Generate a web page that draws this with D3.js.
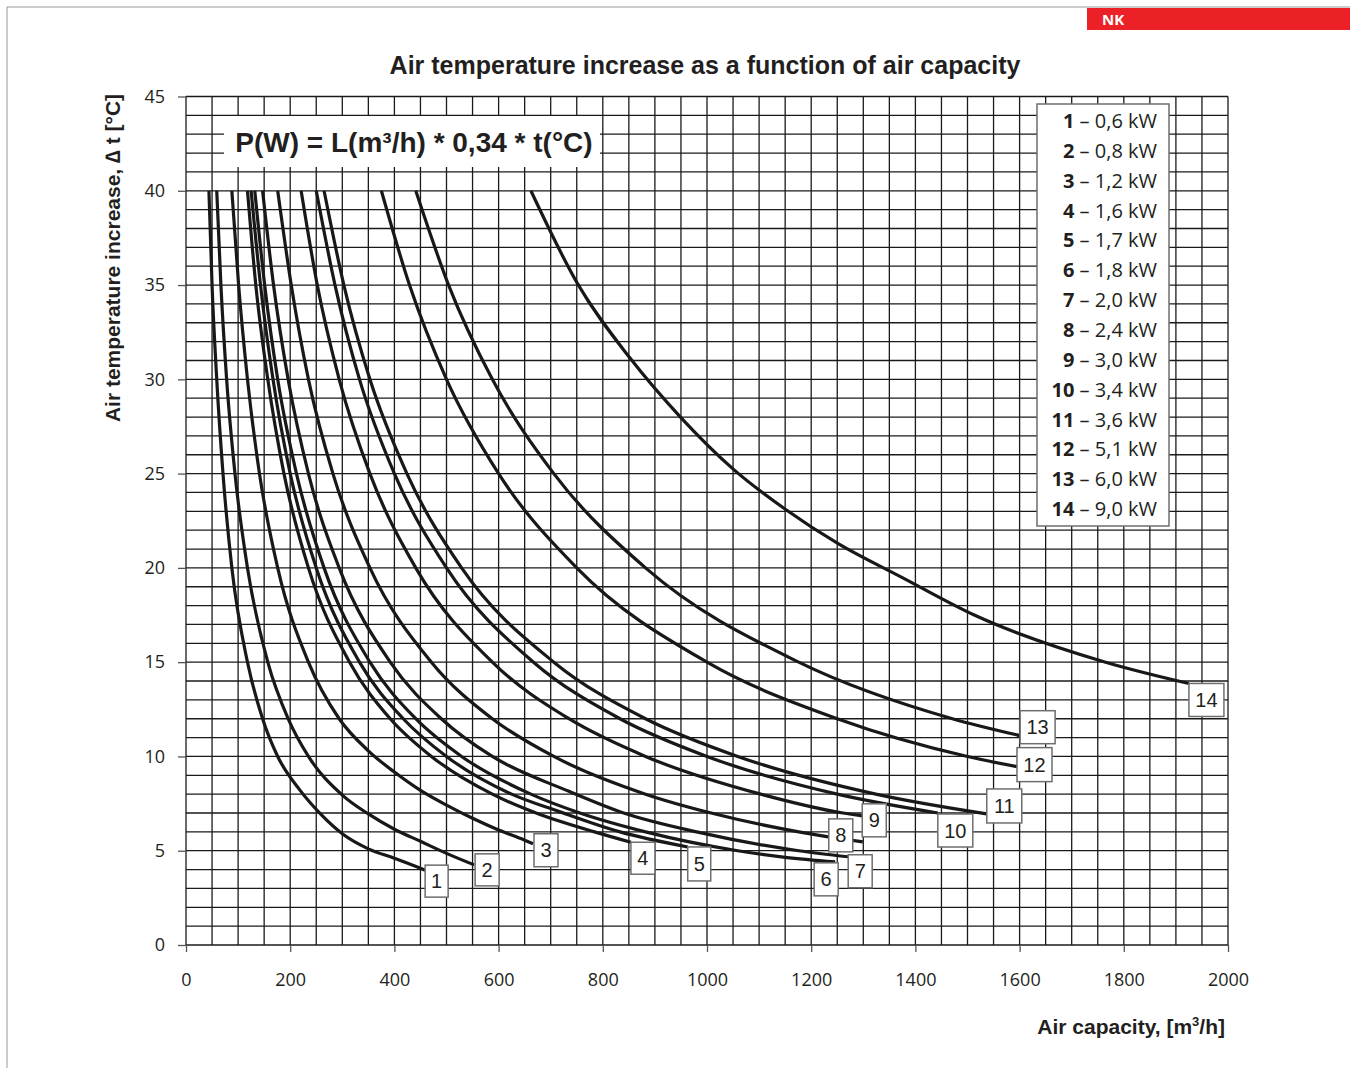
<!DOCTYPE html>
<html><head><meta charset="utf-8">
<script src="https://cdn.jsdelivr.net/npm/d3@7"></script>
<style>body{margin:0;background:#fff}svg{display:block}</style>
</head><body>
<svg id="chart" width="1350" height="1068"></svg>
<script>
// ---- data ----
const curveIds = ["1","2","3","4","5","6","7","8","9","10","11","12","13","14"];
const powerLabels = ["0,6 kW","0,8 kW","1,2 kW","1,6 kW","1,7 kW","1,8 kW","2,0 kW","2,4 kW","3,0 kW","3,4 kW","3,6 kW","5,1 kW","6,0 kW","9,0 kW"];
// points: [air capacity m3/h, temperature increase °C]
const curve1  = [[44,40],[50,35],[59,30],[71,25],[88,20],[118,15],[147,12],[176,10],[219,8.2],[260,6.9],[300,5.9],[350,5.1],[400,4.6],[450,4.07],[459,3.97]];
const curve2  = [[59,40],[67,35],[78,30],[94,25],[118,20],[157,15],[196,12],[235,10],[300,7.95],[350,6.95],[400,6.14],[450,5.5],[500,4.86],[553,4.25]];
const curve3  = [[88,40],[101,35],[118,30],[141,25],[176,20],[235,15],[294,12],[350,10.3],[400,9.17],[450,8.2],[500,7.42],[550,6.72],[600,6.1],[650,5.56],[666,5.37]];
const curve4  = [[118,40],[134,35],[157,30],[188,25],[235,20],[314,15],[392,12],[471,10],[588,8],[672,7],[784,6],[854,5.45]];
const curve5  = [[125,40],[143,35],[167,30],[200,25],[250,20],[333,15],[417,12],[500,10],[625,8],[714,7.1],[833,6],[963,5.2]];
const curve6  = [[132,40],[151,35],[176,30],[212,25],[265,20],[353,15],[441,12],[529,10],[662,8],[756,7],[882,6],[1059,5],[1150,4.65],[1246,4.41]];
const curve7  = [[147,40],[168,35],[196,30],[235,25],[294,20],[392,15],[490,12],[588,10],[735,8.15],[840,7],[980,6],[1176,5],[1271,4.68]];
const curve8  = [[176,40],[202,35],[235,30],[282,25],[353,20],[471,15],[588,12],[706,10],[882,8],[1008,7],[1176,6],[1299,5.47]];
const curve9  = [[221,40],[252,35],[294,30],[353,25],[441,20],[588,15],[735,12],[882,10],[1103,8],[1261,7],[1298,6.85]];
const curve10 = [[250,40],[286,35],[333,30],[400,25],[500,20],[667,15],[833,12],[1000,10],[1250,8],[1443,7.0]];
const curve11 = [[265,40],[303,35],[353,30],[424,25],[529,20],[706,15],[882,12],[1059,10],[1324,8],[1537,6.95]];
const curve12 = [[375,40],[429,35],[500,30],[600,25],[750,20],[1000,15],[1250,12],[1500,10],[1595,9.46]];
const curve13 = [[441,40],[504,35],[588,30],[706,25],[882,20],[1176,15],[1471,12],[1601,11.1]];
const curve14 = [[662,40],[751,35.1],[853,31.1],[949,28.0],[1052,25.2],[1151,23.1],[1251,21.3],[1374,19.5],[1513,17.5],[1765,15],[1925,13.87]];
const curves = [curve1,curve2,curve3,curve4,curve5,curve6,curve7,curve8,curve9,curve10,curve11,curve12,curve13,curve14];
const xTicks = [0,200,400,600,800,1000,1200,1400,1600,1800,2000];
const yTicks = [0,5,10,15,20,25,30,35,40,45];

// ---- layout ----
// label box placement relative to curve end point: [dx, dy, w, h]
const labelBoxes = [[0,-5,23,32],[1,-11,24,32],[1,-10,24,33],[0,0,24,32],[0,0,23,34],[-21,1,24,33],[0,-2,24,33],[-34,-23,24,33],[0,-12,24,33],[0,1,35,33],[0,-25,35,34],[0,-19,35,34],[0,-25,35,33],[0,0,35,33]];

const svg = d3.select("#chart");
const x = d3.scaleLinear().domain([0,2000]).range([186,1228]);
const y = d3.scaleLinear().domain([0,45]).range([945,96.5]);
const sansB = "Liberation Sans, Arial, sans-serif";

// page frame
svg.append("line").attr("x1",7).attr("x2",1350).attr("y1",7).attr("y2",7).attr("stroke","#999").attr("stroke-width",1);
svg.append("line").attr("x1",7).attr("x2",7).attr("y1",7).attr("y2",1068).attr("stroke","#999").attr("stroke-width",1);
svg.append("rect").attr("x",1087).attr("y",8).attr("width",263).attr("height",22).attr("fill","#ec2027");
svg.append("text").attr("x",1102).attr("y",25).attr("fill","#fff").attr("font-family","Open Sans, sans-serif")
  .attr("font-weight","bold").attr("font-size",15).text("NK");

// title
svg.append("text").attr("x",705).attr("y",74).attr("text-anchor","middle")
  .attr("font-family",sansB).attr("font-weight","bold").attr("font-size",25)
  .attr("fill","#231f20").text("Air temperature increase as a function of air capacity");

// grid
const grid = svg.append("g").attr("stroke","#1a1a1a").attr("stroke-width",1.3);
grid.selectAll("line.v").data(d3.range(0,2001,50)).join("line").attr("class","v")
  .attr("x1",d=>x(d)).attr("x2",d=>x(d)).attr("y1",y(45)).attr("y2",y(0));
grid.selectAll("line.h").data(d3.range(0,46,1)).join("line").attr("class","h")
  .attr("x1",x(0)).attr("x2",x(2000)).attr("y1",d=>y(d)).attr("y2",d=>y(d));

// axes
const fontTick = "Open Sans, sans-serif";
const xAxis = svg.append("g").attr("transform",`translate(0,${y(0)})`)
  .call(d3.axisBottom(x).tickValues(xTicks).tickSize(7).tickPadding(21).tickFormat(d3.format("d")));
const yAxis = svg.append("g").attr("transform",`translate(${x(0)},0)`)
  .call(d3.axisLeft(y).tickValues(yTicks).tickSize(8).tickPadding(13).tickFormat(d3.format("d")));
[xAxis,yAxis].forEach(a=>{
  a.select(".domain").remove();
  a.selectAll(".tick line").attr("stroke","#555").attr("stroke-width",1.3);
  a.selectAll(".tick text").attr("font-family",fontTick).attr("font-size",18).attr("fill","#231f20");
});

// formula box
svg.append("rect").attr("x",224).attr("y",116).attr("width",376).attr("height",51).attr("fill","#fff");
svg.append("text").attr("x",414).attr("y",152).attr("text-anchor","middle")
  .attr("font-family",sansB).attr("font-weight","bold").attr("font-size",28)
  .attr("fill","#231f20").text("P(W) = L(m³/h) * 0,34 * t(°C)");

// curves
const line = d3.line().x(d=>x(d[0])).y(d=>y(d[1])).curve(d3.curveMonotoneX);
svg.append("g").selectAll("path").data(curves).join("path")
  .attr("d",line).attr("fill","none").attr("stroke","#1a1718").attr("stroke-width",3.2).attr("stroke-linecap","butt");

// curve label boxes
const lab = svg.append("g");
curves.forEach((c,i)=>{
  const e = c[c.length-1];
  const [dx,dy,w,h] = labelBoxes[i];
  const bx = x(e[0])+dx, by = y(e[1])+dy;
  lab.append("rect").attr("x",bx).attr("y",by).attr("width",w).attr("height",h)
    .attr("fill","#fff").attr("stroke","#6d6e70").attr("stroke-width",1.5);
  lab.append("text").attr("x",bx+w/2).attr("y",by+h/2+7).attr("text-anchor","middle")
    .attr("font-family",sansB).attr("font-size",20).attr("fill","#231f20").text(curveIds[i]);
});

// legend
svg.append("rect").attr("x",1037).attr("y",104).attr("width",132).attr("height",422)
  .attr("fill","#fff").attr("stroke","#6d6e70").attr("stroke-width",1.5);
const leg = svg.append("g").attr("font-family","Open Sans, sans-serif").attr("font-size",20).attr("fill","#231f20");
curveIds.forEach((id,i)=>{
  const t = leg.append("text").attr("x",1157).attr("y",128+i*29.85).attr("text-anchor","end");
  t.append("tspan").attr("font-weight","bold").text(id);
  t.append("tspan").text(" – "+powerLabels[i]);
});

// axis titles
svg.append("text").attr("transform","translate(120,258) rotate(-90)").attr("text-anchor","middle")
  .attr("font-family",sansB).attr("font-weight","bold").attr("font-size",21).attr("fill","#231f20")
  .text("Air temperature increase, ∆ t [°C]");
svg.append("text").attr("x",1225).attr("y",1034).attr("text-anchor","end")
  .attr("font-family",sansB).attr("font-weight","bold").attr("font-size",21).attr("fill","#231f20")
  .html("Air capacity, [m<tspan dy='-8' font-size='13'>3</tspan><tspan dy='8'>/h]</tspan>");
</script>
</body></html>
